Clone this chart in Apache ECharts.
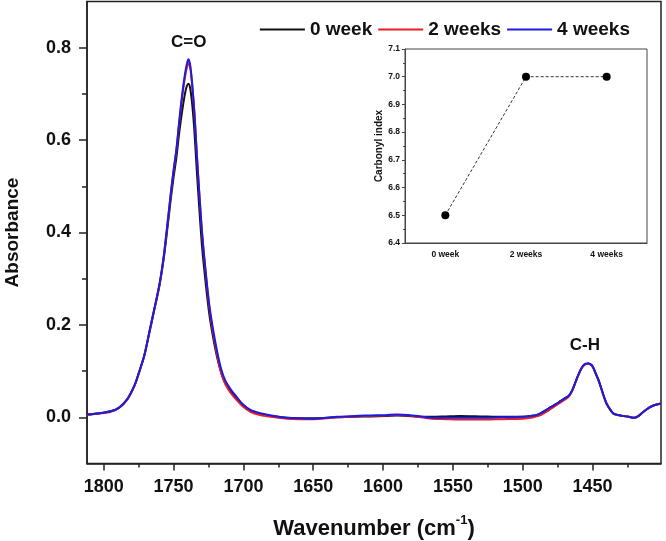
<!DOCTYPE html>
<html>
<head>
<meta charset="utf-8">
<title>FTIR absorbance</title>
<script src="https://cdn.jsdelivr.net/npm/echarts@6/dist/echarts.min.js"></script>
<style>
  html, body { margin: 0; padding: 0; background: #fff; }
  #chart { width: 666px; height: 541px; }
</style>
</head>
<body>
<div id="chart"></div>
<script>
  // wavenumbers (cm-1) shared by the three spectra
  const wavenumbers = [
    1812, 1803, 1795, 1789, 1783, 1778, 1775, 1771, 1767, 1764, 1760, 1757, 1754, 1752, 1750, 1748,
    1746, 1744, 1742, 1740.5, 1739.3, 1738, 1736.5, 1735, 1733.5, 1731.5, 1729.5, 1727, 1724.5, 1722,
    1719, 1716, 1713, 1709, 1705, 1701, 1695, 1688, 1680, 1669, 1660, 1650, 1640, 1633, 1620, 1609,
    1598, 1590, 1582, 1573, 1565, 1555, 1545, 1530, 1515, 1500, 1494, 1490, 1487, 1483, 1480, 1476,
    1473, 1470, 1467, 1465, 1463, 1461, 1459, 1457, 1455, 1453, 1451, 1449.5, 1448, 1446, 1444, 1442,
    1440, 1437, 1435, 1432, 1428, 1424, 1420, 1417, 1414, 1410, 1406, 1401
  ];

  const week0 = [
    0.006, 0.009, 0.013, 0.021, 0.040, 0.069, 0.095, 0.133, 0.188, 0.230, 0.287, 0.345, 0.420, 0.472, 0.520, 0.562,
    0.615, 0.660, 0.698, 0.717, 0.722, 0.710, 0.672, 0.615, 0.540, 0.448, 0.365, 0.290, 0.225, 0.178,
    0.132, 0.097, 0.074, 0.056, 0.042, 0.028, 0.015, 0.008, 0.003, -0.001, -0.002, -0.002, -0.001, 0.000, 0.001, 0.002,
    0.003, 0.004, 0.003, 0.001, 0.001, 0.002, 0.003, 0.002, 0.001, 0.001, 0.003, 0.005, 0.009, 0.016, 0.022, 0.029,
    0.035, 0.041, 0.047, 0.056, 0.070, 0.086, 0.100, 0.110, 0.115, 0.116, 0.113, 0.107, 0.096, 0.082, 0.065, 0.046,
    0.030, 0.015, 0.008, 0.005, 0.003, 0.001, -0.001, 0.003, 0.011, 0.020, 0.026, 0.030
  ];

  const week2 = [
    0.005, 0.008, 0.012, 0.020, 0.039, 0.068, 0.094, 0.133, 0.189, 0.231, 0.289, 0.349, 0.428, 0.483, 0.533, 0.578,
    0.636, 0.690, 0.733, 0.757, 0.766, 0.755, 0.713, 0.655, 0.578, 0.482, 0.395, 0.312, 0.240, 0.188,
    0.137, 0.097, 0.072, 0.052, 0.038, 0.025, 0.012, 0.005, 0.001, -0.003, -0.004, -0.004, -0.002, 0.000, 0.002, 0.003,
    0.004, 0.005, 0.004, 0.000, -0.003, -0.004, -0.005, -0.005, -0.004, -0.003, -0.001, 0.002, 0.005, 0.012, 0.018, 0.026,
    0.032, 0.038, 0.045, 0.055, 0.069, 0.085, 0.099, 0.110, 0.115, 0.116, 0.113, 0.107, 0.096, 0.082, 0.064, 0.045,
    0.029, 0.015, 0.008, 0.005, 0.003, 0.001, -0.001, 0.003, 0.011, 0.020, 0.026, 0.030
  ];

  const week4 = [
    0.006, 0.009, 0.013, 0.021, 0.040, 0.069, 0.095, 0.134, 0.190, 0.232, 0.290, 0.350, 0.430, 0.485, 0.535, 0.580,
    0.640, 0.695, 0.740, 0.765, 0.775, 0.760, 0.715, 0.655, 0.575, 0.480, 0.395, 0.315, 0.245, 0.195,
    0.145, 0.105, 0.080, 0.060, 0.045, 0.030, 0.016, 0.009, 0.004, -0.001, -0.002, -0.003, -0.001, 0.001, 0.003, 0.004,
    0.005, 0.006, 0.005, 0.002, -0.001, -0.001, -0.001, -0.001, 0.000, 0.001, 0.003, 0.005, 0.009, 0.016, 0.022, 0.029,
    0.035, 0.041, 0.047, 0.056, 0.070, 0.086, 0.100, 0.111, 0.116, 0.117, 0.114, 0.108, 0.097, 0.083, 0.065, 0.046,
    0.030, 0.015, 0.008, 0.005, 0.003, 0.001, -0.001, 0.003, 0.011, 0.020, 0.026, 0.030
  ];

  const seriesNames = ['0 week', '2 weeks', '4 weeks'];

  const xMajorTicks = [1800, 1750, 1700, 1650, 1600, 1550, 1500, 1450];
  const xMinorTicks = [1775, 1725, 1675, 1625, 1575, 1525, 1475, 1425];
  const yMajorTicks = [0, 0.2, 0.4, 0.6, 0.8];
  const yMinorTicks = [0.1, 0.3, 0.5, 0.7];

  const peakLabels = ['C=O', 'C-H'];
  const peakWavenumbers = [1739.1, 1455.5];
  const peakAbsorbance = [0.812, 0.156];

  // inset: carbonyl index
  const insetCategories = ['0 week', '2 weeks', '4 weeks'];
  const carbonylIndex = [6.5, 7.0, 7.0];

  const FONT = 'Liberation Sans, Arial, sans-serif';
  const INK = '#111';

  function pairs(values) {
    return wavenumbers.map((w, i) => [w, values[i]]);
  }

  function spectrum(name, values, color) {
    return {
      name: name,
      type: 'line',
      xAxisIndex: 0,
      yAxisIndex: 0,
      symbol: 'none',
      smooth: 0.3,
      lineStyle: { color: color, width: 2 },
      itemStyle: { color: color },
      data: pairs(values)
    };
  }

  function createChart() {
    const instance = echarts.init(document.getElementById('chart'), null, { renderer: 'canvas' });

    const blue = spectrum(seriesNames[2], week4, '#1c1ce0');
    blue.markPoint = {
      symbol: 'rect',
      symbolSize: 1,
      itemStyle: { color: 'transparent' },
      label: {
        show: true,
        position: 'inside',
        formatter: '{b}',
        fontFamily: FONT,
        fontSize: 17,
        fontWeight: 'bold',
        color: INK
      },
      data: peakLabels.map((name, i) => ({ name: name, coord: [peakWavenumbers[i], peakAbsorbance[i]] }))
    };

    const option = {
      animation: false,
      backgroundColor: '#fff',
      textStyle: { fontFamily: FONT },
      legend: {
        data: seriesNames,
        icon: 'rect',
        right: 31,
        top: 15,
        itemWidth: 45,
        itemHeight: 2,
        itemGap: 6,
        textStyle: { fontFamily: FONT, fontSize: 19, fontWeight: 'bold', color: INK }
      },
      grid: [
        {
          left: 87, top: 1.5, right: 5, height: 462,
          outerBoundsMode: 'none', containLabel: false,
          show: true, borderColor: '#222', borderWidth: 1.5
        },
        {
          left: 405, top: 49, width: 242, height: 194,
          outerBoundsMode: 'none', containLabel: false,
          show: true, borderColor: '#444', borderWidth: 1
        }
      ],
      xAxis: [
        {
          type: 'value',
          gridIndex: 0,
          inverse: true,
          min: 1401,
          max: 1812,
          splitLine: { show: false },
          axisLine: { onZero: false, lineStyle: { color: '#222', width: 1.5 } },
          axisTick: { length: 7, customValues: xMajorTicks, lineStyle: { color: '#222', width: 1.5 } },
          axisLabel: {
            customValues: xMajorTicks,
            margin: 15,
            formatter: (v) => String(v),
            fontFamily: FONT,
            fontSize: 18,
            fontWeight: 'bold',
            color: INK
          },
          name: '{t|Wavenumber (cm}{s|-1}{t|)}',
          nameLocation: 'middle',
          nameGap: 50,
          nameTextStyle: {
            rich: {
              t: { fontFamily: FONT, fontSize: 22, fontWeight: 'bold', color: INK, lineHeight: 26, verticalAlign: 'bottom' },
              s: { fontFamily: FONT, fontSize: 13, fontWeight: 'bold', color: INK, lineHeight: 14, verticalAlign: 'top' }
            }
          }
        },
        {
          type: 'value',
          gridIndex: 0,
          inverse: true,
          min: 1401,
          max: 1812,
          position: 'bottom',
          splitLine: { show: false },
          axisLine: { show: false, onZero: false },
          axisTick: { length: 4, customValues: xMinorTicks, lineStyle: { color: '#222', width: 1.5 } },
          axisLabel: { show: false }
        },
        {
          type: 'category',
          gridIndex: 1,
          data: insetCategories,
          boundaryGap: true,
          axisLine: { onZero: false, lineStyle: { color: '#444', width: 1 } },
          axisTick: { alignWithLabel: true, length: 3, lineStyle: { color: '#444' } },
          axisLabel: { margin: 7, fontFamily: FONT, fontSize: 8.5, fontWeight: 'bold', color: INK }
        }
      ],
      yAxis: [
        {
          type: 'value',
          gridIndex: 0,
          min: -0.1,
          max: 0.9,
          splitLine: { show: false },
          axisLine: { onZero: false, lineStyle: { color: '#222', width: 1.5 } },
          axisTick: { length: 8, customValues: yMajorTicks, lineStyle: { color: '#222', width: 1.5 } },
          axisLabel: {
            customValues: yMajorTicks,
            margin: 16,
            formatter: (v) => v.toFixed(1),
            fontFamily: FONT,
            fontSize: 18,
            fontWeight: 'bold',
            color: INK
          },
          name: 'Absorbance',
          nameLocation: 'middle',
          nameGap: 65,
          nameTextStyle: { fontFamily: FONT, fontSize: 19, fontWeight: 'bold', color: INK }
        },
        {
          type: 'value',
          gridIndex: 0,
          min: -0.1,
          max: 0.9,
          position: 'left',
          splitLine: { show: false },
          axisLine: { show: false, onZero: false },
          axisTick: { length: 5, customValues: yMinorTicks, lineStyle: { color: '#222', width: 1.5 } },
          axisLabel: { show: false }
        },
        {
          type: 'value',
          gridIndex: 1,
          min: 6.4,
          max: 7.1,
          interval: 0.1,
          splitLine: { show: false },
          axisLine: { show: true, onZero: false, lineStyle: { color: '#444', width: 1 } },
          axisTick: { show: true, length: 3, lineStyle: { color: '#444' } },
          minorTick: { show: true, splitNumber: 2, length: 2, lineStyle: { color: '#444' } },
          axisLabel: {
            margin: 5,
            formatter: (v) => v.toFixed(1),
            fontFamily: FONT,
            fontSize: 8.5,
            fontWeight: 'bold',
            color: INK
          },
          name: 'Carbonyl index',
          nameLocation: 'middle',
          nameGap: 20,
          nameTextStyle: { fontFamily: FONT, fontSize: 10, fontWeight: 'bold', color: INK }
        }
      ],
      series: [
        spectrum(seriesNames[0], week0, '#111111'),
        spectrum(seriesNames[1], week2, '#ea1c24'),
        blue,
        {
          name: 'Carbonyl index',
          type: 'line',
          xAxisIndex: 2,
          yAxisIndex: 2,
          symbol: 'circle',
          symbolSize: 8,
          itemStyle: { color: '#000' },
          lineStyle: { color: '#333', width: 1, type: [3, 2] },
          data: carbonylIndex
        }
      ]
    };

    instance.setOption(option);
    return instance;
  }

  createChart();
</script>
</body>
</html>
